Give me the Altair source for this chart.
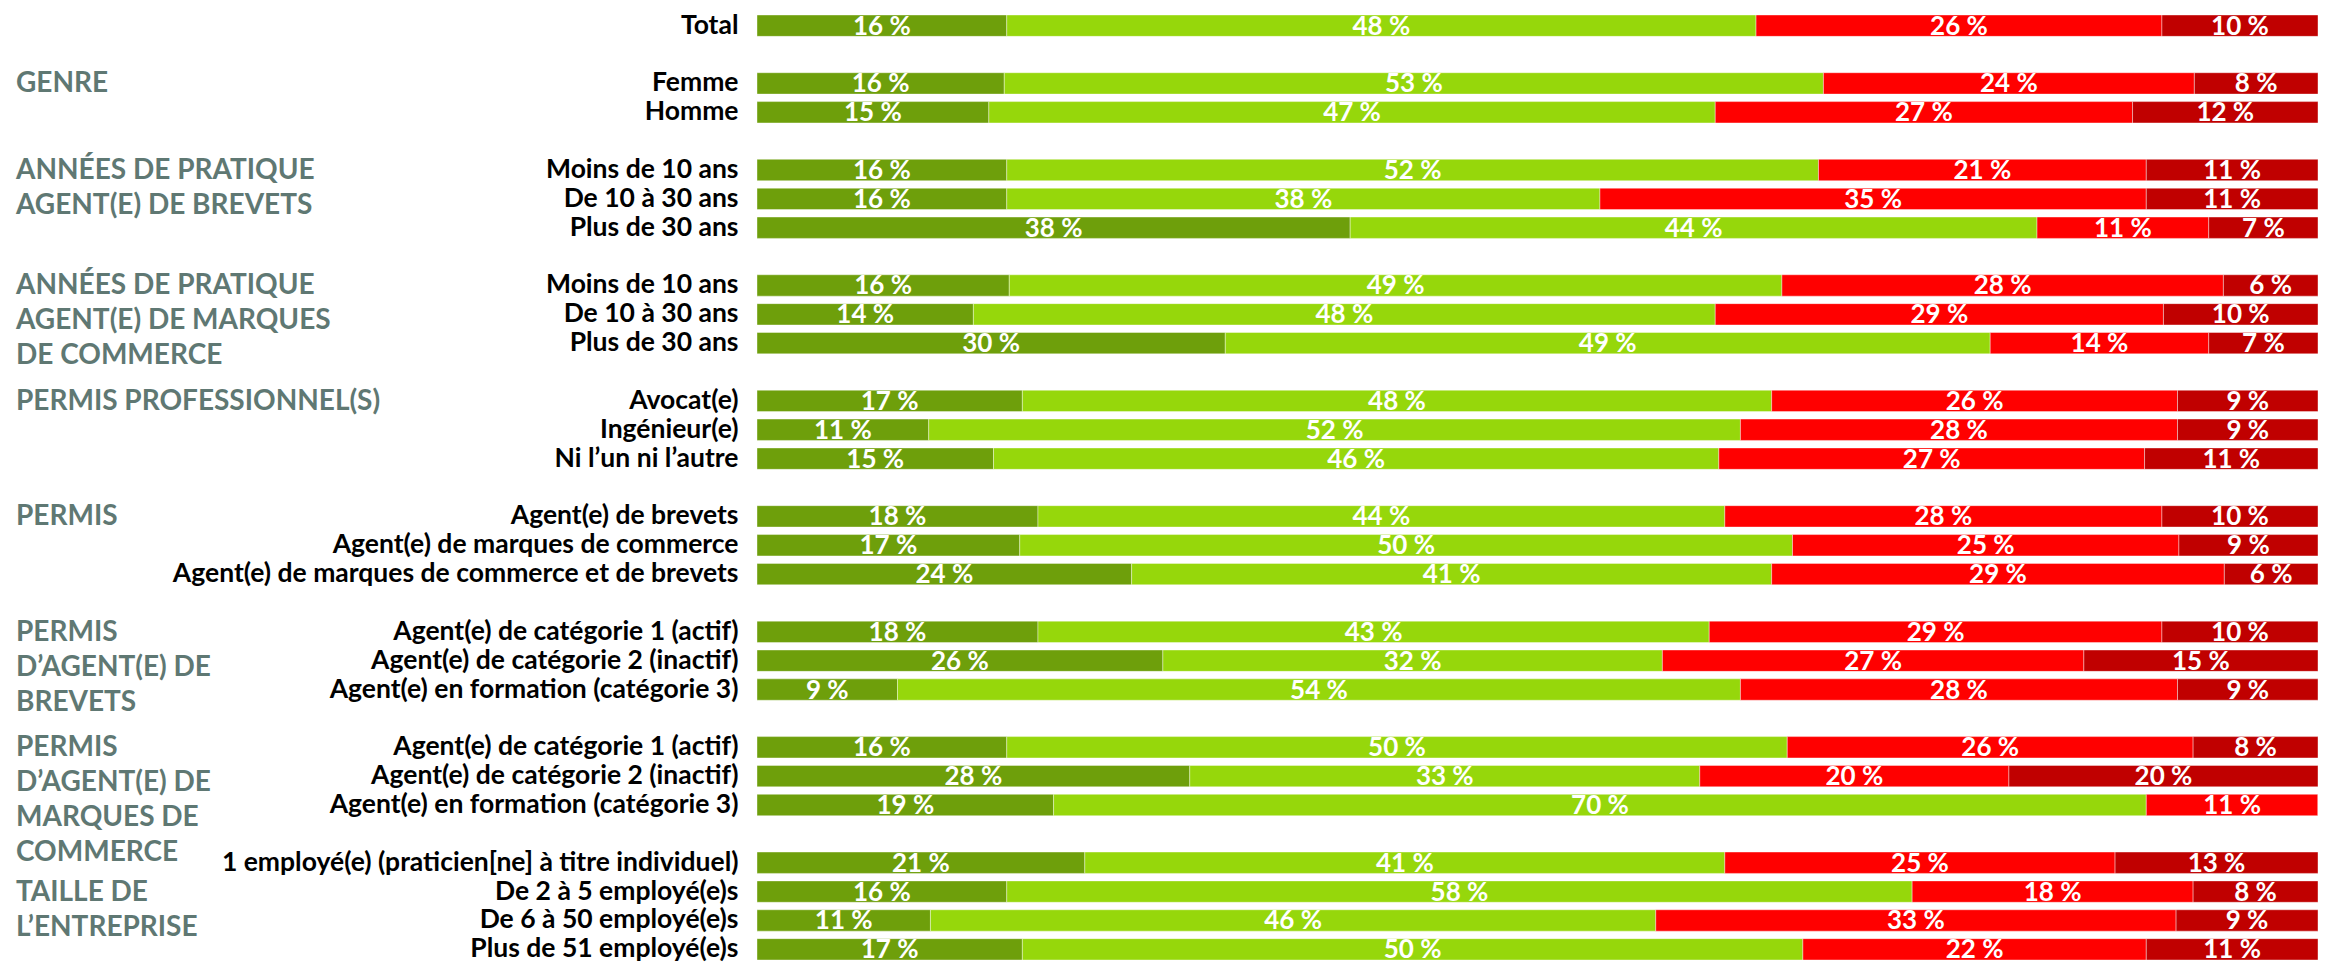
import json
import altair as alt
import pandas as pd

# Row labels (empty string = spacer row between groups)
row_labels = [
    "Total", "",
    "Femme", "Homme", "",
    "Moins de 10 ans", "De 10 à 30 ans", "Plus de 30 ans", "",
    "Moins de 10 ans", "De 10 à 30 ans", "Plus de 30 ans", "",
    "Avocat(e)", "Ingénieur(e)", "Ni l’un ni l’autre", "",
    "Agent(e) de brevets", "Agent(e) de marques de commerce",
    "Agent(e) de marques de commerce et de brevets", "",
    "Agent(e) de catégorie 1 (actif)", "Agent(e) de catégorie 2 (inactif)",
    "Agent(e) en formation (catégorie 3)", "",
    "Agent(e) de catégorie 1 (actif)", "Agent(e) de catégorie 2 (inactif)",
    "Agent(e) en formation (catégorie 3)", "",
    "1 employé(e) (praticien[ne] à titre individuel)", "De 2 à 5 employé(e)s",
    "De 6 à 50 employé(e)s", "Plus de 51 employé(e)s",
]

group_titles = [
    ["GENRE"],
    ["ANNÉES DE PRATIQUE", "AGENT(E) DE BREVETS"],
    ["ANNÉES DE PRATIQUE", "AGENT(E) DE MARQUES", "DE COMMERCE"],
    ["PERMIS PROFESSIONNEL(S)"],
    ["PERMIS"],
    ["PERMIS", "D’AGENT(E) DE", "BREVETS"],
    ["PERMIS", "D’AGENT(E) DE", "MARQUES DE", "COMMERCE"],
    ["TAILLE DE", "L’ENTREPRISE"],
]
group_anchor_rows = [2, 5, 9, 13, 17, 21, 25, 30]

categories = ["Très satisfait(e)", "Satisfait(e)", "Insatisfait(e)", "Très insatisfait(e)"]
colors = ["#6E9F0B", "#96D70B", "#FF0000", "#C00000"]

v_dark_green = [16, 16, 15, 16, 16, 38, 16, 14, 30, 17, 11, 15, 18, 17, 24,
                18, 26, 9, 16, 28, 19, 21, 16, 11, 17]
v_light_green = [48, 53, 47, 52, 38, 44, 49, 48, 49, 48, 52, 46, 44, 50, 41,
                 43, 32, 54, 50, 33, 70, 41, 58, 46, 50]
v_red = [26, 24, 27, 21, 35, 11, 28, 29, 14, 26, 28, 27, 28, 25, 29,
         29, 27, 28, 26, 20, 11, 25, 18, 33, 22]
v_dark_red = [10, 8, 12, 11, 11, 7, 6, 10, 7, 9, 9, 11, 10, 9, 6,
              10, 15, 9, 8, 20, 0, 13, 8, 9, 11]

row_ids = [f"r{i:02d}" for i in range(len(row_labels))]
data_ids = [rid for rid, lab in zip(row_ids, row_labels) if lab]

records = []
for i, rid in enumerate(data_ids):
    for k, series in enumerate([v_dark_green, v_light_green, v_red, v_dark_red]):
        records.append({"rid": rid, "cat": categories[k], "o": k, "v": series[i]})
df = pd.DataFrame(records)

label_map = json.dumps(dict(zip(row_ids, row_labels)), ensure_ascii=False)
label_expr = label_map + "[datum.value]"

FONT = "Lato"

y_enc = alt.Y(
    "rid:N",
    scale=alt.Scale(domain=row_ids, paddingInner=0.26, paddingOuter=0),
    axis=alt.Axis(
        title=None, labelExpr=label_expr, labelFont=FONT, labelFontWeight="bold",
        labelFontSize=26.5, labelColor="#000000", labelPadding=19, ticks=False,
        tickSize=0, domain=False, labelLimit=800, grid=False,
    ),
)
x_scale = alt.Scale(domain=[0, 1], nice=False, zero=True)

bars = alt.Chart(df).mark_bar(stroke="#ffffff", strokeWidth=0.4).encode(
    x=alt.X("v:Q", stack="normalize", scale=x_scale, axis=None),
    y=y_enc,
    color=alt.Color("cat:N", scale=alt.Scale(domain=categories, range=colors), legend=None),
    order=alt.Order("o:Q"),
)

texts = (
    alt.Chart(df)
    .transform_filter("datum.v > 0")
    .transform_joinaggregate(total="sum(v)", groupby=["rid"])
    .transform_window(cum="sum(v)", sort=[alt.SortField("o")], groupby=["rid"], frame=[None, 0])
    .transform_calculate(mid="(datum.cum - datum.v / 2) / datum.total", lab="datum.v + ' %'")
    .mark_text(font=FONT, fontWeight="bold", fontSize=26, color="#ffffff",
               align="center", baseline="middle", dy=1)
    .encode(x=alt.X("mid:Q", scale=x_scale, axis=None), y=alt.Y("rid:N"), text="lab:N")
)

tdf = pd.DataFrame({"rid": [row_ids[i] for i in group_anchor_rows], "t": group_titles})
titles = alt.Chart(tdf).mark_text(
    font=FONT, fontWeight="bold", fontSize=28, color="#5F7873",
    align="left", baseline="top", lineHeight=35, dy=-13,
).encode(x=alt.value(-741), y=alt.Y("rid:N"), text="t")

chart = (
    alt.layer(bars, texts, titles)
    .properties(
        width=1561, height=945,
        autosize=alt.AutoSizeParams(type="none"),
        padding={"left": 749, "top": 7, "right": 0, "bottom": 6},
        background="#ffffff",
    )
    .configure_view(stroke=None)
)

chart.save("out.html", embed_options={"renderer": "svg", "actions": False})
